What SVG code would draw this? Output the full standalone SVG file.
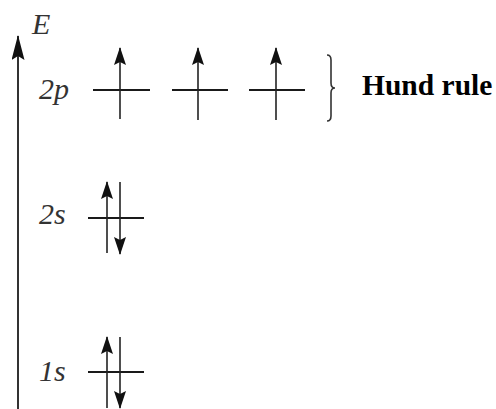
<svg xmlns="http://www.w3.org/2000/svg" width="496" height="409" viewBox="0 0 496 409">
<style>
.lvl{stroke:#1a1a1a;stroke-width:2.2;fill:none}
.spin{stroke:#222;stroke-width:1.6;fill:none}
.lab{font-family:"Liberation Serif","Times New Roman",serif;font-style:italic;font-size:30px;fill:#333}
.hund{font-family:"Liberation Serif","Times New Roman",serif;font-weight:bold;font-size:29.5px;fill:#000}
.brace{stroke:#333;stroke-width:1.6;fill:none}
</style>
<defs>
<marker id="head" markerUnits="userSpaceOnUse" markerWidth="19" markerHeight="12" refX="17" refY="6" orient="auto" viewBox="0 0 19 12">
<path d="M18 6 L0 0 L3 6 L0 12 Z" fill="#111"/>
</marker>
<marker id="axhead" markerUnits="userSpaceOnUse" markerWidth="26" markerHeight="13" refX="24" refY="6.5" orient="auto" viewBox="0 0 26 13">
<path d="M25 6.5 L0 0 L4 6.5 L0 13 Z" fill="#111"/>
</marker>
</defs>
<g id="connectors">
<line id="energy-axis" x1="18" y1="409" x2="18" y2="36" stroke="#333" stroke-width="2" marker-end="url(#axhead)"/>
</g>
<g id="axis-label"><text class="lab" x="32" y="34">E</text></g>
<g id="level-2p">
<text class="lab" x="39" y="99">2p</text>
<line class="lvl" x1="93" y1="90" x2="150" y2="90"/>
<line class="spin" x1="120" y1="119" x2="120" y2="48" marker-end="url(#head)"/>
<line class="lvl" x1="172" y1="90" x2="228" y2="90"/>
<line class="spin" x1="198" y1="120" x2="198" y2="48" marker-end="url(#head)"/>
<line class="lvl" x1="249" y1="90" x2="305" y2="90"/>
<line class="spin" x1="276" y1="120" x2="276" y2="48" marker-end="url(#head)"/>
</g>
<g id="hund-rule">
<path class="brace" d="M327 55 Q331 55 331 60 L331 83 Q331 88 335 88 Q331 88 331 93 L331 116 Q331 121 327 121"/>
<text class="hund" x="362" y="95">Hund rule</text>
</g>
<g id="level-2s">
<text class="lab" x="39" y="224">2s</text>
<line class="lvl" x1="88" y1="218" x2="144" y2="218"/>
<line class="spin" x1="107" y1="253" x2="107" y2="182" marker-end="url(#head)"/>
<line class="spin" x1="120" y1="182" x2="120" y2="254" marker-end="url(#head)"/>
</g>
<g id="level-1s">
<text class="lab" x="39" y="381">1s</text>
<line class="lvl" x1="88" y1="372" x2="144" y2="372"/>
<line class="spin" x1="107" y1="408" x2="107" y2="337" marker-end="url(#head)"/>
<line class="spin" x1="120" y1="337" x2="120" y2="408" marker-end="url(#head)"/>
</g>
</svg>
